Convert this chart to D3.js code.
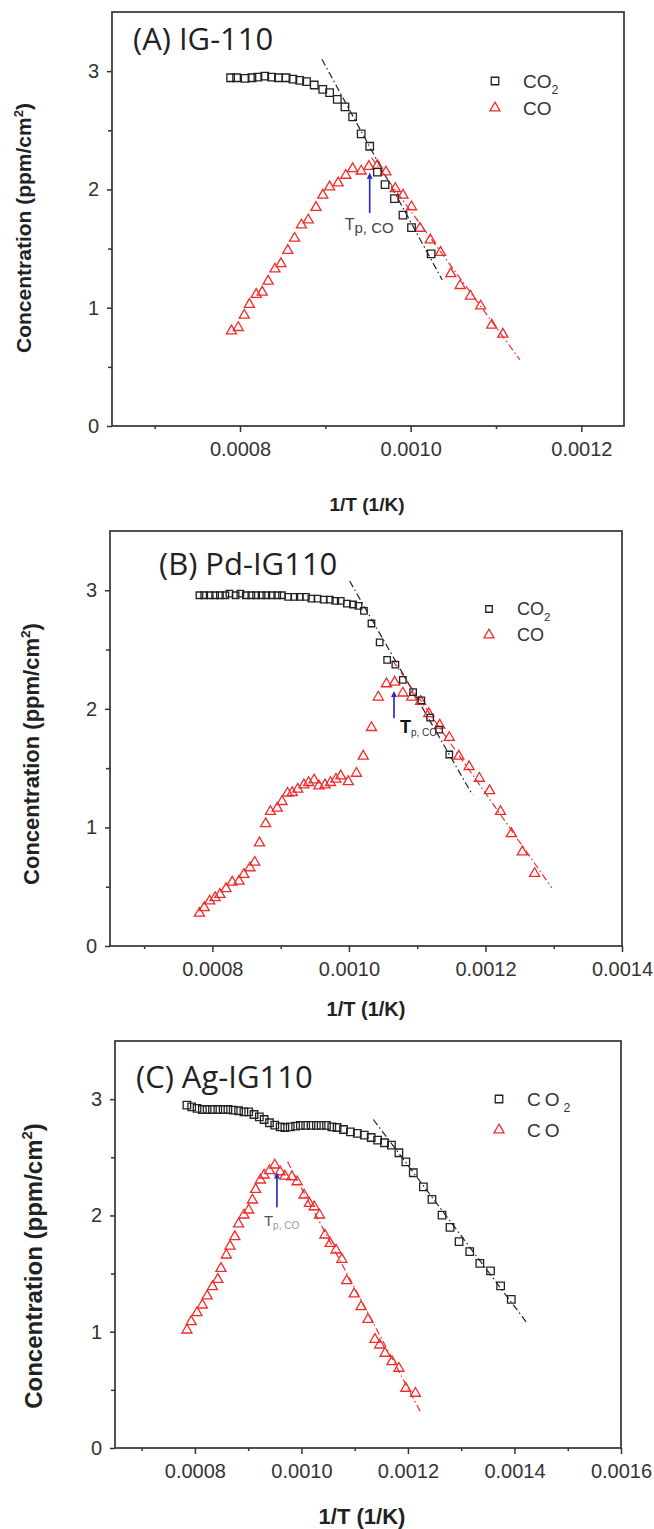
<!DOCTYPE html>
<html>
<head>
<meta charset="utf-8">
<script src="https://cdn.jsdelivr.net/npm/d3@7"></script>
<style>
  body { margin: 0; background: #fff; }
  svg text { font-family: "Liberation Sans", Arial, sans-serif; }
</style>
</head>
<body>
<div id="chart"></div>
<script>
// ---- data: [1/T (1/K), concentration (ppm/cm2)] ----
const a_co2 = [[0.000789,2.944],[0.000796,2.944],[0.000806,2.939],[0.000814,2.944],[0.000821,2.950],[0.000829,2.958],[0.000837,2.950],[0.000845,2.944],[0.000854,2.944],[0.000862,2.933],[0.000870,2.922],[0.000878,2.911],[0.000887,2.883],[0.000897,2.846],[0.000905,2.818],[0.000914,2.762],[0.000923,2.698],[0.000932,2.614],[0.000942,2.469],[0.000952,2.365],[0.000961,2.147],[0.000970,2.041],[0.000981,1.923],[0.000991,1.783],[0.001001,1.677],[0.001024,1.456]];
const a_co = [[0.000790,0.804],[0.000798,0.832],[0.000805,0.936],[0.000811,1.028],[0.000819,1.112],[0.000826,1.131],[0.000833,1.224],[0.000841,1.327],[0.000848,1.372],[0.000856,1.484],[0.000864,1.587],[0.000872,1.699],[0.000880,1.741],[0.000889,1.848],[0.000897,1.951],[0.000905,2.021],[0.000915,2.055],[0.000924,2.119],[0.000932,2.175],[0.000942,2.155],[0.000951,2.194],[0.000961,2.203],[0.000971,2.147],[0.000982,2.007],[0.000991,1.951],[0.001001,1.853],[0.001011,1.671],[0.001023,1.573],[0.001035,1.467],[0.001047,1.288],[0.001058,1.187],[0.001070,1.098],[0.001082,1.014],[0.001095,0.852],[0.001108,0.776]];
const a_fit_co2 = [[0.000896,3.10],[0.001037,1.235]];
const a_fit_co = [[0.000954,2.27],[0.001128,0.56]];

const b_co2 = [[0.000781,2.958],[0.000788,2.958],[0.000796,2.958],[0.000804,2.958],[0.000811,2.958],[0.000819,2.958],[0.000825,2.972],[0.000834,2.958],[0.000841,2.972],[0.000849,2.958],[0.000857,2.958],[0.000864,2.958],[0.000872,2.958],[0.000879,2.958],[0.000887,2.958],[0.000895,2.958],[0.000902,2.958],[0.000911,2.944],[0.000920,2.944],[0.000928,2.944],[0.000937,2.944],[0.000945,2.930],[0.000954,2.930],[0.000963,2.922],[0.000972,2.922],[0.000980,2.910],[0.000988,2.910],[0.000997,2.888],[0.001006,2.880],[0.001014,2.869],[0.001022,2.827],[0.001033,2.720],[0.001045,2.561],[0.001056,2.413],[0.001068,2.373],[0.001079,2.245],[0.001094,2.141],[0.001106,2.071],[0.001119,1.926],[0.001132,1.825],[0.001147,1.615]];
const b_co = [[0.000781,0.276],[0.000788,0.323],[0.000796,0.379],[0.000804,0.407],[0.000811,0.435],[0.000820,0.483],[0.000829,0.538],[0.000839,0.547],[0.000846,0.603],[0.000855,0.659],[0.000862,0.706],[0.000869,0.869],[0.000878,1.031],[0.000885,1.134],[0.000895,1.162],[0.000902,1.218],[0.000910,1.288],[0.000917,1.294],[0.000925,1.322],[0.000934,1.358],[0.000941,1.378],[0.000949,1.400],[0.000956,1.350],[0.000965,1.358],[0.000973,1.378],[0.000981,1.406],[0.000988,1.434],[0.000999,1.386],[0.001011,1.456],[0.001021,1.601],[0.001033,1.842],[0.001043,2.099],[0.001055,2.211],[0.001067,2.225],[0.001079,2.133],[0.001092,2.099],[0.001105,2.063],[0.001117,1.959],[0.001133,1.862],[0.001147,1.758],[0.001161,1.601],[0.001176,1.512],[0.001191,1.414],[0.001206,1.310],[0.001222,1.134],[0.001238,0.947],[0.001254,0.793],[0.001272,0.611]];
const b_fit_co2 = [[0.001001,3.078],[0.001181,1.274]];
const b_fit_co = [[0.001064,2.407],[0.001297,0.491]];

const c_co2 = [[0.000785,2.948],[0.000794,2.934],[0.000804,2.920],[0.000814,2.911],[0.000823,2.911],[0.000833,2.911],[0.000843,2.911],[0.000853,2.911],[0.000862,2.911],[0.000872,2.905],[0.000882,2.900],[0.000892,2.891],[0.000901,2.891],[0.000911,2.868],[0.000921,2.848],[0.000930,2.825],[0.000940,2.797],[0.000950,2.777],[0.000960,2.762],[0.000969,2.756],[0.000979,2.762],[0.000989,2.768],[0.000998,2.774],[0.001008,2.774],[0.001018,2.774],[0.001028,2.774],[0.001037,2.774],[0.001047,2.774],[0.001057,2.762],[0.001067,2.756],[0.001079,2.739],[0.001092,2.719],[0.001105,2.705],[0.001118,2.691],[0.001131,2.670],[0.001143,2.648],[0.001156,2.625],[0.001169,2.605],[0.001183,2.539],[0.001196,2.461],[0.001210,2.367],[0.001229,2.246],[0.001245,2.138],[0.001264,2.003],[0.001279,1.897],[0.001296,1.774],[0.001316,1.688],[0.001335,1.587],[0.001355,1.524],[0.001374,1.395],[0.001394,1.278]];
const c_co = [[0.000785,1.014],[0.000793,1.086],[0.000804,1.163],[0.000814,1.229],[0.000823,1.307],[0.000833,1.387],[0.000843,1.450],[0.000849,1.544],[0.000859,1.659],[0.000866,1.736],[0.000875,1.817],[0.000882,1.926],[0.000892,2.003],[0.000901,2.046],[0.000908,2.132],[0.000914,2.223],[0.000923,2.304],[0.000930,2.347],[0.000940,2.384],[0.000950,2.433],[0.000960,2.375],[0.000969,2.338],[0.000982,2.332],[0.000992,2.289],[0.001005,2.175],[0.001015,2.103],[0.001024,2.074],[0.001034,2.003],[0.001044,1.831],[0.001054,1.759],[0.001065,1.702],[0.001076,1.622],[0.001085,1.438],[0.001099,1.324],[0.001112,1.215],[0.001125,1.106],[0.001138,0.934],[0.001147,0.885],[0.001157,0.814],[0.001170,0.742],[0.001183,0.685],[0.001196,0.513],[0.001214,0.470]];
const c_fit_co2 = [[0.001135,2.825],[0.001424,1.072]];
const c_fit_co = [[0.000974,2.461],[0.001225,0.298]];

// peak-temperature arrows: [x, y bottom, y top]
const a_arrow = [0.000952, 1.80, 2.14];
const b_arrow = [0.001066, 1.92, 2.15];
const c_arrow = [0.000954, 2.07, 2.37];

const a_xticks = [0.0008, 0.0010, 0.0012];
const b_xticks = [0.0008, 0.0010, 0.0012, 0.0014];
const c_xticks = [0.0008, 0.0010, 0.0012, 0.0014, 0.0016];
const yticks = [0, 1, 2, 3];
const yminor = [0.5, 1.5, 2.5];

const RED = "#f22a2a";
const BLACK = "#222";
const AXIS = "#333";

const PANELS = [
  { title: "(A) IG-110", co2: a_co2, co: a_co, fitCo2: a_fit_co2, fitCo: a_fit_co, arrow: a_arrow,
    xticks: a_xticks, xmax: 0.00125, left: 112, right: 624, top: 12, bottom: 426,
    titleX: 133, titleY: 50, legX: 495, legY: 81, legGap: 27, legFont: 19, legSpacing: 0,
    yl: { x: 31, y: 228, size: 21 }, xl: { x: 367, y: 511, size: 19 }, sq: 7.5,
    tp: { dx: -25, dy: 17, size: 16, sub: 15, subDy: 3, color: "#444", subColor: "#444" } },
  { title: "(B) Pd-IG110", co2: b_co2, co: b_co, fitCo2: b_fit_co2, fitCo: b_fit_co, arrow: b_arrow,
    xticks: b_xticks, xmax: 0.0014, left: 110, right: 622, top: 531, bottom: 946,
    titleX: 159, titleY: 575, legX: 489, legY: 609, legGap: 26, legFont: 18, legSpacing: 0,
    yl: { x: 39, y: 754, size: 22 }, xl: { x: 366, y: 1016, size: 20 }, sq: 6.5,
    tp: { dx: 6, dy: 15, size: 18, sub: 10, subDy: 3, color: "#111", subColor: "#333", bold: true } },
  { title: "(C) Ag-IG110", co2: c_co2, co: c_co, fitCo2: c_fit_co2, fitCo: c_fit_co, arrow: c_arrow,
    xticks: c_xticks, xmax: 0.0016, left: 115, right: 621, top: 1041, bottom: 1448,
    titleX: 136, titleY: 1088, legX: 499, legY: 1099, legGap: 31, legFont: 19, legSpacing: 4,
    yl: { x: 42, y: 1266, size: 24 }, xl: { x: 362, y: 1524, size: 22 }, sq: 7.5,
    tp: { dx: -13, dy: 19, size: 15, sub: 10, subDy: 3, color: "#555", subColor: "#999" } }
];

const svg = d3.select("#chart").append("svg")
  .attr("width", 654)
  .attr("height", 1529);

PANELS.forEach(p => drawPanel(p));

function drawPanel(p) {
  const x = d3.scaleLinear().domain([0.00065, p.xmax]).range([p.left, p.right]);
  const y = d3.scaleLinear().domain([0, 3.5]).range([p.bottom, p.top]);
  const xminor = p.xticks.map(t => t - 0.0001);
  const g = svg.append("g");

  // frame
  g.append("rect")
    .attr("x", p.left).attr("y", p.top)
    .attr("width", p.right - p.left).attr("height", p.bottom - p.top)
    .attr("fill", "none").attr("stroke", AXIS).attr("stroke-width", 1.7);

  // x axis
  g.append("g").attr("transform", `translate(0,${p.bottom})`)
    .call(d3.axisBottom(x).tickValues(p.xticks).tickFormat(d3.format(".4f")).tickSize(6).tickPadding(10));
  g.append("g").attr("transform", `translate(0,${p.bottom})`)
    .call(d3.axisBottom(x).tickValues(xminor).tickFormat("").tickSize(3));

  // y axis
  g.append("g").attr("transform", `translate(${p.left},0)`)
    .call(d3.axisLeft(y).tickValues(yticks).tickFormat(d3.format("d")).tickSize(5).tickPadding(8));
  g.append("g").attr("transform", `translate(${p.left},0)`)
    .call(d3.axisLeft(y).tickValues(yminor).tickFormat("").tickSize(4));

  g.selectAll(".domain").remove();
  g.selectAll(".tick line").attr("stroke", AXIS).attr("stroke-width", 1.5);
  g.selectAll(".tick text").attr("fill", "#333").style("font-size", "20px");

  // axis titles
  const yl = g.append("text")
    .attr("transform", `translate(${p.yl.x},${p.yl.y}) rotate(-90)`)
    .attr("text-anchor", "middle")
    .attr("font-weight", "bold").attr("fill", "#222")
    .style("font-size", p.yl.size + "px")
    .text("Concentration (ppm/cm");
  yl.append("tspan").attr("dy", -p.yl.size * 0.4).style("font-size", (p.yl.size * 0.62) + "px").text("2");
  yl.append("tspan").attr("dy", p.yl.size * 0.4).text(")");

  g.append("text")
    .attr("x", p.xl.x).attr("y", p.xl.y)
    .attr("text-anchor", "middle")
    .attr("font-weight", "bold").attr("fill", "#222")
    .style("font-size", p.xl.size + "px")
    .text("1/T (1/K)");

  // panel title
  g.append("text")
    .attr("x", p.titleX).attr("y", p.titleY)
    .attr("fill", "#222")
    .style("font-family", "'Open Sans', sans-serif")
    .style("font-size", "31px")
    .text(p.title);

  // dash-dot fits
  const line = d3.line().x(d => x(d[0])).y(d => y(d[1]));
  g.append("path").datum(p.fitCo2).attr("d", line)
    .attr("fill", "none").attr("stroke", BLACK).attr("stroke-width", 1.2)
    .attr("stroke-dasharray", "7,3,1.5,3");
  g.append("path").datum(p.fitCo).attr("d", line)
    .attr("fill", "none").attr("stroke", RED).attr("stroke-width", 1.2)
    .attr("stroke-dasharray", "7,3,1.5,3");

  // T_p,CO annotation (baseline just under the arrow tail)
  const ax = x(p.arrow[0]), ay0 = y(p.arrow[1]), ay1 = y(p.arrow[2]);
  const tp = g.append("text")
    .attr("x", ax + p.tp.dx).attr("y", ay0 + p.tp.dy)
    .attr("fill", p.tp.color)
    .attr("font-weight", p.tp.bold ? "bold" : "normal")
    .style("font-size", p.tp.size + "px")
    .text("T");
  tp.append("tspan").attr("dy", p.tp.subDy)
    .attr("fill", p.tp.subColor)
    .attr("font-weight", "normal")
    .style("font-size", p.tp.sub + "px")
    .text("p, CO");

  // markers
  const sq = d3.symbol().type(d3.symbolSquare).size(p.sq * p.sq);
  const tri = d3.symbol().type(d3.symbolTriangle).size(44);
  g.append("g").selectAll("path").data(p.co).join("path")
    .attr("transform", d => `translate(${x(d[0])},${y(d[1])})`)
    .attr("d", tri)
    .attr("fill", "none").attr("stroke", RED).attr("stroke-width", 1.3);
  g.append("g").selectAll("path").data(p.co2).join("path")
    .attr("transform", d => `translate(${x(d[0])},${y(d[1])})`)
    .attr("d", sq)
    .attr("fill", "none").attr("stroke", BLACK).attr("stroke-width", 1.3);

  // blue arrow
  g.append("line")
    .attr("x1", ax).attr("x2", ax).attr("y1", ay0).attr("y2", ay1 + 4)
    .attr("stroke", "#2b2bd0").attr("stroke-width", 1.7);
  g.append("path")
    .attr("d", `M${ax},${ay1} l-3,6 l6,0 z`)
    .attr("fill", "#2b2bd0");

  // legend
  const lg = g.append("g");
  lg.append("path").attr("transform", `translate(${p.legX},${p.legY})`)
    .attr("d", sq).attr("fill", "none").attr("stroke", BLACK).attr("stroke-width", 1.3);
  lg.append("path").attr("transform", `translate(${p.legX},${p.legY + p.legGap})`)
    .attr("d", tri).attr("fill", "none").attr("stroke", RED).attr("stroke-width", 1.3);
  const t1 = lg.append("text").attr("x", p.legX + 28).attr("y", p.legY + p.legFont * 0.36)
    .attr("fill", "#333").style("font-size", p.legFont + "px")
    .style("letter-spacing", p.legSpacing + "px")
    .text("CO");
  t1.append("tspan").attr("dy", p.legFont * 0.3).style("font-size", (p.legFont * 0.65) + "px").text("2");
  lg.append("text").attr("x", p.legX + 28).attr("y", p.legY + p.legGap + p.legFont * 0.36)
    .attr("fill", "#333").style("font-size", p.legFont + "px")
    .style("letter-spacing", p.legSpacing + "px")
    .text("CO");
}
</script>
</body>
</html>
